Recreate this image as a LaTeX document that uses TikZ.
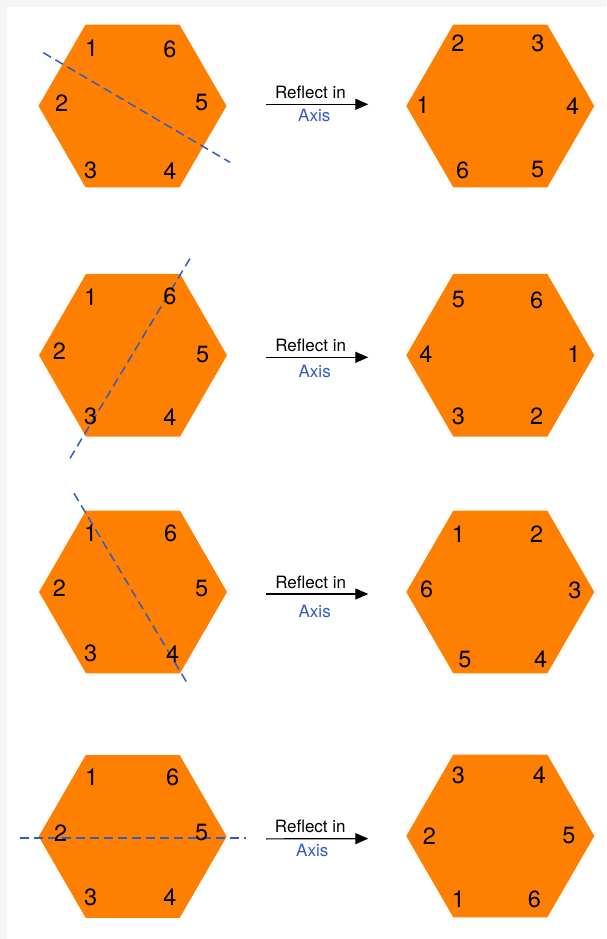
\documentclass[tikz,border=0pt]{standalone}
\usepackage{fontspec}
\setmainfont{TeX Gyre Heros}
\usetikzlibrary{shapes.geometric,arrows.meta}
\definecolor{hexorange}{RGB}{255,128,0}
\definecolor{axisblue}{RGB}{48,92,196}
\definecolor{bggray}{RGB}{245,245,245}
\begin{document}
\begin{tikzpicture}[x=1pt,y=-1pt,
  hexbox/.style={regular polygon, regular polygon sides=6, minimum size=188pt, inner sep=0pt, outer sep=0pt, fill=hexorange, draw=none},
  num/.style={inner sep=0pt, font=\fontsize{23.5}{23.5}\selectfont},
  axisline/.style={axisblue, line width=1.5pt, dash pattern=on 9pt off 5pt},
  reflarrow/.style={-{Triangle[length=13pt,width=11pt]}, line width=1.2pt, black},
  lbltop/.style={font=\fontsize{17}{17}\selectfont, inner sep=0pt},
  lblbot/.style={font=\fontsize{17}{17}\selectfont, inner sep=0pt, text=axisblue},
]
\useasboundingbox (0,0) rectangle (606,939);
\fill[bggray] (0,0) rectangle (606,939);
\fill[white] (7,7.5) rectangle (606,939);

% hexagons
\node[hexbox] (L1) at (132.5,106) {};
\node[hexbox] (R1) at (500.3,106) {};
\node[hexbox] (L2) at (133,355.3) {};
\node[hexbox] (R2) at (500.3,355.3) {};
\node[hexbox] (L3) at (133,592) {};
\node[hexbox] (R3) at (500.3,592) {};
\node[hexbox] (L4) at (132.7,836.5) {};
\node[hexbox] (R4) at (500.3,836) {};

% axes
\coordinate (A1s) at (43.3,52.7);  \coordinate (A1e) at (230,162.3);
\coordinate (A2s) at (70,458.3);   \coordinate (A2e) at (191.7,255.7);
\coordinate (A3s) at (74,493.3);   \coordinate (A3e) at (187.7,684);
\coordinate (A4s) at (20,838);     \coordinate (A4e) at (246,838);
\draw[axisline] (A1s) -- (A1e);
\draw[axisline] (A2s) -- (A2e);
\draw[axisline] (A3s) -- (A3e);
\draw[axisline] (A4s) -- (A4e);

% row 1 labels
\node[num] (L1a) at (91.7,48) {1};
\node[num] (L1f) at (170,49) {6};
\node[num] (L1b) at (61.7,103) {2};
\node[num] (L1e) at (201.7,103) {5};
\node[num] (L1c) at (90.7,170) {3};
\node[num] (L1d) at (170,170.7) {4};
\node[num] (R1b) at (458,43) {2};
\node[num] (R1c) at (538,43) {3};
\node[num] (R1a) at (423,105) {1};
\node[num] (R1d) at (572.7,106) {4};
\node[num] (R1f) at (462.7,170.7) {6};
\node[num] (R1e) at (537.7,170) {5};

% row 2 labels
\node[num] (L2a) at (90.7,296.7) {1};
\node[num] (L2f) at (170,296.7) {6};
\node[num] (L2b) at (59.3,351) {2};
\node[num] (L2e) at (202.7,355) {5};
\node[num] (L2c) at (90.7,416) {3};
\node[num] (L2d) at (170,416.7) {4};
\node[num] (R2e) at (458.3,300) {5};
\node[num] (R2f) at (536.7,300) {6};
\node[num] (R2d) at (426,354) {4};
\node[num] (R2a) at (574,354) {1};
\node[num] (R2c) at (458.3,416) {3};
\node[num] (R2b) at (536.7,416) {2};

% row 3 labels
\node[num] (L3a) at (90.7,533.3) {1};
\node[num] (L3f) at (170.7,533) {6};
\node[num] (L3b) at (59.3,588.3) {2};
\node[num] (L3e) at (201.7,588.3) {5};
\node[num] (L3c) at (90.7,653.3) {3};
\node[num] (L3d) at (172.7,654) {4};
\node[num] (R3a) at (458.3,534.3) {1};
\node[num] (R3b) at (536.7,534) {2};
\node[num] (R3f) at (426.7,589.3) {6};
\node[num] (R3c) at (575,590.7) {3};
\node[num] (R3e) at (465,659.3) {5};
\node[num] (R3d) at (540.7,659.3) {4};

% row 4 labels
\node[num] (L4a) at (91.7,777.3) {1};
\node[num] (L4f) at (172.7,777) {6};
\node[num] (L4b) at (60.7,833.3) {2};
\node[num] (L4e) at (201.7,832.7) {5};
\node[num] (L4c) at (90.7,897.3) {3};
\node[num] (L4d) at (170,897.3) {4};
\node[num] (R4c) at (458.3,775) {3};
\node[num] (R4d) at (539.3,775) {4};
\node[num] (R4b) at (429.3,835.7) {2};
\node[num] (R4e) at (569,835.7) {5};
\node[num] (R4a) at (458.3,899.3) {1};
\node[num] (R4f) at (534.3,899.3) {6};

% arrows
\draw[reflarrow, shorten <=39.5pt, shorten >=38pt] ([yshift=1.7pt]L1.east) -- ([yshift=1.7pt]R1.west);
\draw[reflarrow, shorten <=39pt, shorten >=38pt] ([yshift=-2pt]L2.east) -- ([yshift=-2pt]R2.west);
\draw[reflarrow, shorten <=39pt, shorten >=38pt] ([yshift=-2pt]L3.east) -- ([yshift=-2pt]R3.west);
\draw[reflarrow, shorten <=39.3pt, shorten >=38pt] ([yshift=-2.5pt]L4.east) -- ([yshift=-2.5pt]R4.west);

\node[lbltop] (T1) at (310.4,92.3) {Reflect in};
\node[lblbot] (B1) at (314.3,115) {Axis};
\node[lbltop] (T2) at (310.7,345) {Reflect in};
\node[lblbot] (B2) at (314.7,371.7) {Axis};
\node[lbltop] (T3) at (310.7,582.7) {Reflect in};
\node[lblbot] (B3) at (314.7,611.7) {Axis};
\node[lbltop] (T4) at (310.3,826.7) {Reflect in};
\node[lblbot] (B4) at (312.3,850) {Axis};
\end{tikzpicture}
\end{document}
